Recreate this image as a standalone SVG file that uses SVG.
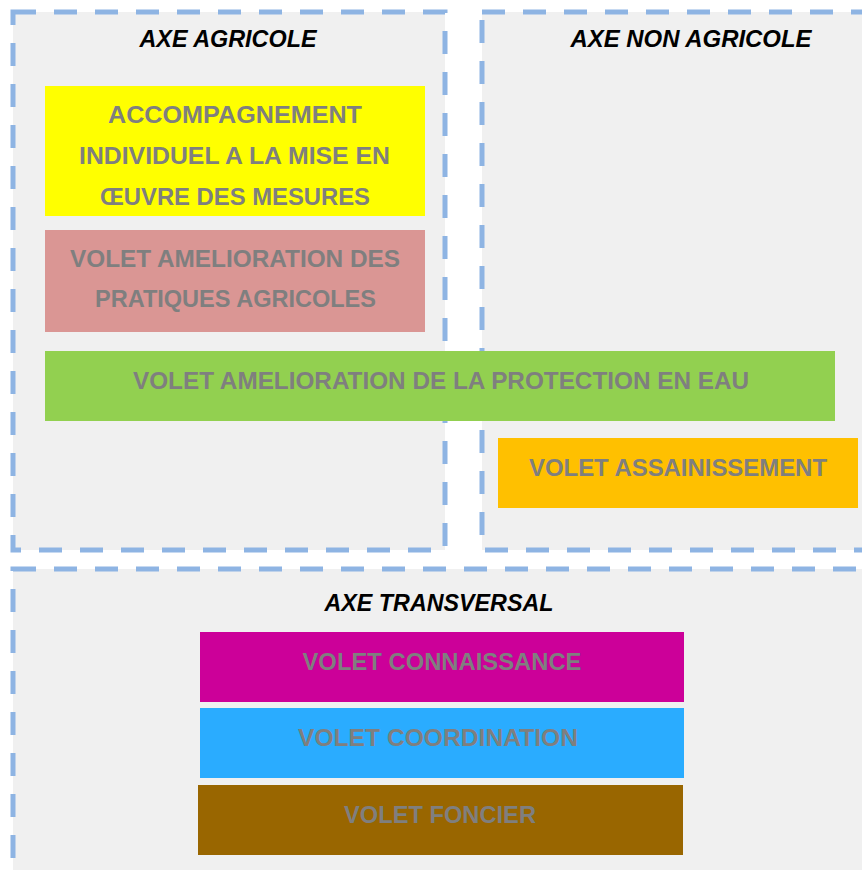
<svg xmlns="http://www.w3.org/2000/svg" width="862" height="870" viewBox="0 0 862 870">
<style>
.axe{fill:#f0f0f0;stroke:#8eb4e3;stroke-width:5;stroke-dasharray:23 18}
.t{font-family:"Liberation Sans",Arial,sans-serif;font-weight:bold;font-size:24px;fill:#7f7f7f;text-anchor:middle}
.h{font-family:"Liberation Sans",Arial,sans-serif;font-weight:bold;font-style:italic;font-size:24px;fill:#000;text-anchor:middle}
</style>
<rect width="862" height="870" fill="#fff"/>
<g id="axe-agricole">
<rect class="axe" x="13" y="12" width="432" height="538"/>
<text class="h" x="228" y="47" textLength="177" lengthAdjust="spacingAndGlyphs">AXE AGRICOLE</text>
</g>
<g id="axe-non-agricole">
<rect class="axe" x="482" y="12" width="400" height="538"/>
<text class="h" x="691" y="47" textLength="241" lengthAdjust="spacingAndGlyphs">AXE NON AGRICOLE</text>
</g>
<g id="axe-transversal">
<rect class="axe" x="13" y="569" width="870" height="320"/>
<text class="h" x="439" y="611" textLength="229" lengthAdjust="spacingAndGlyphs">AXE TRANSVERSAL</text>
</g>
<g id="accompagnement">
<rect x="45" y="86" width="380" height="130" fill="#ffff00"/>
<text class="t" x="235" y="123" textLength="254" lengthAdjust="spacingAndGlyphs">ACCOMPAGNEMENT</text>
<text class="t" x="234.5" y="164" textLength="311" lengthAdjust="spacingAndGlyphs">INDIVIDUEL A LA MISE EN</text>
<text class="t" x="235" y="205" textLength="270" lengthAdjust="spacingAndGlyphs">ŒUVRE DES MESURES</text>
</g>
<g id="pratiques">
<rect x="45" y="230" width="380" height="102" fill="#da9694"/>
<text class="t" x="235" y="267" textLength="330" lengthAdjust="spacingAndGlyphs">VOLET AMELIORATION DES</text>
<text class="t" x="235.5" y="307" textLength="281" lengthAdjust="spacingAndGlyphs">PRATIQUES AGRICOLES</text>
</g>
<g id="protection-eau">
<rect x="45" y="351" width="790" height="70" fill="#92d050"/>
<text class="t" x="441" y="389" textLength="616" lengthAdjust="spacingAndGlyphs">VOLET AMELIORATION DE LA PROTECTION EN EAU</text>
</g>
<g id="assainissement">
<rect x="498" y="438" width="360" height="70" fill="#ffc000"/>
<text class="t" x="678" y="476" textLength="298" lengthAdjust="spacingAndGlyphs">VOLET ASSAINISSEMENT</text>
</g>
<g id="connaissance">
<rect x="200" y="632" width="484" height="70" fill="#cc0099"/>
<text class="t" x="442" y="670" textLength="279" lengthAdjust="spacingAndGlyphs">VOLET CONNAISSANCE</text>
</g>
<g id="coordination">
<rect x="200" y="708" width="484" height="70" fill="#2aacff"/>
<text class="t" x="438" y="746" textLength="280" lengthAdjust="spacingAndGlyphs">VOLET COORDINATION</text>
</g>
<g id="foncier">
<rect x="198" y="785" width="485" height="70" fill="#996600"/>
<text class="t" x="440" y="823" textLength="192" lengthAdjust="spacingAndGlyphs">VOLET FONCIER</text>
</g>
<g id="connectors"></g>
</svg>
